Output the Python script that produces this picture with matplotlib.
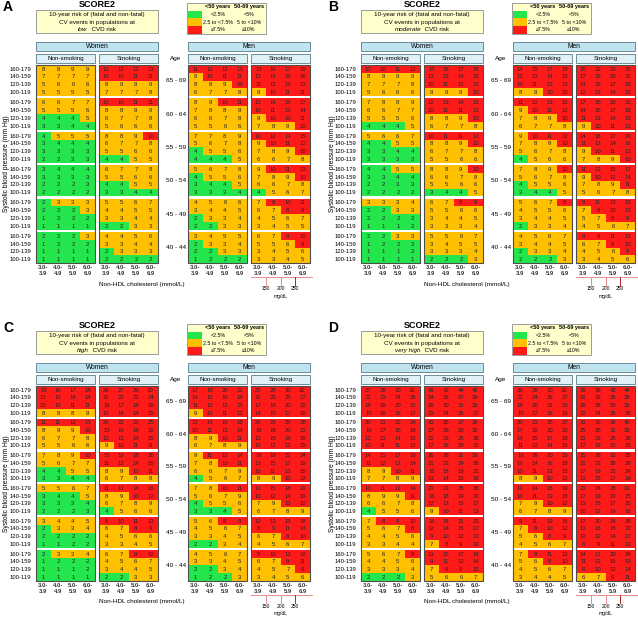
import matplotlib
matplotlib.use("Agg")
import matplotlib.pyplot as plt
from matplotlib.patches import Rectangle

plt.rcParams["font.family"] = ["Liberation Sans", "DejaVu Sans"]

# ---- labels ----
ages = ["65 - 69", "60 - 64", "55 - 59", "50 - 54", "45 - 49", "40 - 44"]
sbp = ["160-179", "140-159", "120-139", "100-119"]
chol_top = ["3.0-", "4.0-", "5.0-", "6.0-"]
chol_bot = ["3.9", "4.9", "5.9", "6.9"]
mgdl = [150, 200, 250]
letters = ["A", "B", "C", "D"]
levels = ["low", "moderate", "high", "very high"]

# ---- risk values (%), rows: age groups top->bottom, SBP 160-179 -> 100-119 ----
low_women_ns = [[8, 8, 9, 9], [7, 7, 7, 7], [5, 6, 6, 6], [5, 5, 5, 5],
                [6, 6, 7, 7], [5, 5, 5, 6], [4, 4, 4, 5], [3, 3, 4, 4],
                [4, 5, 5, 5], [3, 4, 4, 4], [3, 3, 3, 3], [2, 2, 3, 3],
                [3, 4, 4, 4], [3, 3, 3, 3], [2, 2, 2, 3], [2, 2, 2, 2],
                [2, 3, 3, 3], [2, 2, 2, 3], [1, 2, 2, 2], [1, 1, 1, 1],
                [2, 2, 2, 3], [1, 2, 2, 2], [1, 1, 1, 1], [1, 1, 1, 1]]
low_women_s = [[12, 12, 13, 13], [10, 10, 11, 11], [8, 9, 9, 9], [7, 7, 7, 8],
               [10, 10, 11, 11], [8, 8, 9, 9], [6, 7, 7, 8], [5, 6, 6, 6],
               [8, 8, 9, 10], [6, 7, 7, 8], [5, 5, 6, 6], [4, 4, 5, 5],
               [6, 7, 7, 8], [5, 5, 6, 6], [4, 4, 5, 5], [3, 3, 4, 4],
               [5, 5, 6, 7], [4, 4, 5, 5], [3, 3, 4, 4], [2, 2, 3, 3],
               [4, 4, 5, 6], [3, 3, 4, 4], [2, 3, 3, 3], [2, 2, 2, 2]]
low_men_ns = [[11, 12, 12, 13], [9, 10, 11, 11], [8, 8, 9, 10], [6, 7, 7, 8],
              [8, 9, 10, 11], [7, 8, 8, 9], [6, 6, 7, 8], [5, 5, 6, 6],
              [7, 7, 8, 9], [5, 6, 7, 8], [4, 5, 5, 6], [4, 4, 4, 5],
              [5, 6, 7, 8], [4, 5, 5, 6], [3, 4, 4, 5], [3, 3, 3, 4],
              [4, 5, 6, 6], [3, 4, 4, 5], [2, 3, 3, 4], [2, 2, 3, 3],
              [3, 4, 5, 5], [2, 3, 3, 4], [2, 2, 3, 3], [1, 2, 2, 2]]
low_men_s = [[15, 16, 17, 19], [13, 14, 15, 16], [11, 12, 13, 13], [9, 10, 11, 11],
             [13, 14, 15, 17], [10, 11, 13, 14], [9, 10, 10, 11], [7, 8, 9, 10],
             [10, 12, 13, 15], [9, 10, 11, 12], [7, 8, 9, 10], [6, 6, 7, 8],
             [9, 10, 11, 13], [7, 8, 9, 10], [6, 6, 7, 8], [4, 5, 6, 7],
             [7, 8, 10, 11], [6, 7, 8, 9], [4, 5, 6, 7], [3, 4, 5, 5],
             [6, 7, 8, 10], [5, 5, 6, 8], [3, 4, 5, 6], [3, 3, 4, 5]]

mod_women_ns = [[10, 10, 11, 12], [8, 9, 9, 9], [7, 7, 7, 8], [5, 6, 6, 6],
                [7, 8, 8, 9], [6, 6, 7, 7], [5, 5, 5, 6], [4, 4, 4, 5],
                [5, 6, 6, 7], [4, 4, 5, 5], [3, 3, 4, 4], [3, 3, 3, 3],
                [4, 4, 5, 5], [3, 3, 4, 4], [2, 2, 3, 3], [2, 2, 2, 2],
                [3, 3, 3, 4], [2, 2, 3, 3], [2, 2, 2, 2], [1, 1, 1, 2],
                [2, 2, 3, 3], [1, 2, 2, 2], [1, 1, 1, 2], [1, 1, 1, 1]]
mod_women_s = [[15, 16, 17, 18], [13, 13, 14, 15], [10, 11, 12, 12], [9, 9, 9, 10],
               [12, 13, 14, 15], [10, 11, 11, 12], [8, 8, 9, 10], [6, 7, 7, 8],
               [10, 11, 11, 12], [8, 8, 9, 10], [6, 7, 7, 8], [5, 5, 6, 6],
               [8, 8, 9, 10], [6, 6, 7, 8], [5, 5, 6, 6], [3, 4, 4, 5],
               [6, 7, 8, 9], [5, 5, 6, 6], [3, 4, 4, 5], [3, 3, 3, 4],
               [5, 5, 6, 7], [3, 4, 5, 5], [3, 3, 3, 4], [2, 2, 2, 3]]
mod_men_ns = [[14, 15, 17, 18], [12, 13, 14, 15], [10, 11, 12, 13], [8, 9, 10, 10],
              [11, 12, 13, 15], [9, 10, 11, 12], [7, 8, 9, 10], [6, 7, 7, 8],
              [9, 10, 11, 12], [7, 8, 9, 10], [5, 6, 7, 8], [4, 5, 6, 6],
              [7, 8, 9, 10], [5, 6, 7, 8], [4, 5, 5, 6], [3, 4, 4, 5],
              [5, 6, 7, 8], [4, 5, 5, 6], [3, 4, 4, 5], [2, 3, 3, 4],
              [4, 5, 6, 7], [3, 4, 4, 5], [2, 3, 3, 4], [2, 2, 2, 3]]
mod_men_s = [[20, 22, 23, 25], [17, 18, 20, 21], [14, 15, 17, 18], [12, 13, 14, 15],
             [17, 18, 20, 22], [14, 15, 17, 18], [11, 13, 14, 15], [9, 10, 11, 12],
             [14, 16, 17, 20], [11, 13, 14, 16], [9, 10, 11, 13], [7, 8, 9, 10],
             [11, 13, 15, 17], [9, 10, 12, 14], [7, 8, 9, 11], [5, 6, 7, 8],
             [9, 11, 13, 15], [7, 8, 10, 12], [5, 7, 8, 9], [4, 5, 6, 7],
             [8, 9, 11, 13], [6, 7, 8, 10], [4, 5, 6, 8], [3, 4, 5, 6]]

high_women_ns = [[15, 16, 17, 18], [12, 13, 14, 14], [10, 10, 11, 11], [8, 8, 8, 9],
                 [11, 11, 12, 13], [8, 9, 9, 10], [6, 7, 7, 8], [5, 5, 6, 6],
                 [7, 8, 9, 10], [5, 6, 7, 7], [4, 4, 5, 5], [3, 3, 4, 4],
                 [5, 5, 6, 7], [3, 4, 4, 5], [3, 3, 3, 4], [2, 2, 2, 3],
                 [3, 4, 4, 5], [2, 3, 3, 4], [2, 2, 2, 2], [1, 1, 2, 2],
                 [2, 3, 3, 4], [1, 2, 2, 2], [1, 1, 1, 2], [1, 1, 1, 1]]
high_women_s = [[26, 27, 29, 30], [21, 22, 23, 24], [16, 17, 18, 19], [13, 14, 14, 15],
                [20, 21, 23, 25], [15, 16, 18, 19], [12, 13, 14, 15], [9, 10, 11, 11],
                [15, 16, 18, 20], [11, 12, 14, 15], [8, 9, 10, 11], [6, 7, 8, 8],
                [11, 13, 14, 16], [8, 9, 10, 12], [6, 7, 8, 9], [4, 5, 6, 6],
                [8, 10, 11, 13], [6, 7, 8, 9], [4, 5, 6, 6], [3, 3, 4, 5],
                [6, 7, 9, 10], [4, 5, 6, 7], [3, 4, 4, 5], [2, 2, 3, 3]]
high_men_ns = [[17, 18, 20, 22], [14, 15, 16, 18], [11, 12, 13, 15], [9, 10, 11, 12],
               [13, 14, 16, 18], [10, 11, 13, 14], [8, 9, 10, 11], [6, 7, 8, 9],
               [9, 11, 12, 14], [7, 8, 10, 11], [6, 6, 7, 9], [4, 5, 6, 7],
               [7, 8, 10, 11], [5, 6, 7, 9], [4, 5, 5, 6], [3, 3, 4, 5],
               [5, 6, 8, 9], [4, 5, 6, 7], [3, 3, 4, 5], [2, 2, 3, 4],
               [4, 5, 6, 7], [3, 3, 4, 5], [2, 2, 3, 4], [1, 2, 2, 3]]
high_men_s = [[25, 28, 30, 32], [21, 23, 25, 27], [17, 19, 20, 22], [14, 15, 17, 18],
              [20, 23, 25, 28], [16, 18, 20, 23], [13, 15, 16, 18], [10, 12, 13, 15],
              [16, 19, 21, 24], [13, 15, 17, 19], [10, 11, 13, 15], [8, 9, 10, 12],
              [13, 15, 18, 21], [10, 12, 14, 16], [7, 9, 10, 12], [6, 7, 8, 9],
              [10, 13, 15, 18], [8, 9, 11, 14], [6, 7, 8, 10], [4, 5, 6, 7],
              [8, 10, 13, 16], [6, 7, 9, 11], [4, 5, 7, 8], [3, 4, 5, 6]]

vhigh_women_ns = [[27, 28, 30, 31], [22, 23, 24, 26], [18, 19, 20, 21], [15, 16, 16, 17],
                  [20, 21, 22, 24], [16, 17, 18, 19], [12, 13, 14, 15], [10, 11, 11, 12],
                  [14, 15, 17, 18], [11, 12, 13, 14], [8, 9, 10, 11], [7, 7, 8, 9],
                  [10, 11, 12, 14], [8, 9, 9, 11], [6, 6, 7, 8], [4, 5, 5, 6],
                  [7, 8, 9, 10], [5, 6, 7, 8], [4, 4, 5, 6], [3, 3, 4, 4],
                  [5, 6, 7, 8], [4, 4, 5, 6], [3, 3, 3, 4], [2, 2, 2, 3]]
vhigh_women_s = [[41, 42, 44, 46], [34, 36, 37, 39], [28, 30, 31, 33], [23, 24, 26, 27],
                 [33, 35, 37, 39], [27, 29, 30, 32], [22, 23, 25, 26], [17, 18, 20, 21],
                 [26, 28, 31, 33], [21, 23, 24, 26], [16, 18, 19, 21], [13, 14, 15, 16],
                 [21, 23, 25, 28], [16, 18, 19, 22], [12, 13, 15, 17], [9, 10, 11, 13],
                 [16, 18, 21, 23], [12, 14, 15, 17], [9, 10, 12, 13], [7, 8, 9, 10],
                 [13, 15, 17, 19], [9, 11, 12, 14], [7, 8, 9, 10], [5, 6, 6, 7]]
vhigh_men_ns = [[26, 28, 30, 32], [22, 24, 26, 27], [18, 20, 21, 23], [15, 17, 18, 19],
                [20, 23, 25, 27], [17, 19, 20, 22], [14, 15, 17, 18], [11, 12, 14, 15],
                [16, 18, 20, 23], [13, 14, 16, 18], [10, 11, 13, 15], [8, 9, 10, 12],
                [12, 14, 16, 19], [10, 11, 13, 15], [7, 9, 10, 12], [6, 7, 8, 9],
                [9, 11, 13, 16], [7, 8, 10, 12], [5, 6, 8, 9], [4, 5, 6, 7],
                [7, 9, 11, 13], [5, 6, 8, 10], [4, 5, 6, 7], [3, 4, 4, 5]]
vhigh_men_s = [[36, 39, 42, 44], [31, 33, 36, 38], [26, 28, 30, 33], [22, 24, 26, 28],
               [31, 33, 36, 40], [25, 28, 31, 33], [21, 23, 25, 28], [17, 19, 21, 23],
               [25, 28, 32, 35], [21, 23, 26, 29], [17, 19, 21, 24], [13, 15, 17, 19],
               [21, 24, 28, 31], [17, 19, 22, 25], [13, 15, 17, 20], [10, 12, 14, 16],
               [17, 20, 24, 28], [13, 16, 18, 22], [10, 12, 14, 17], [8, 9, 11, 13],
               [14, 17, 20, 24], [11, 13, 16, 19], [8, 10, 12, 14], [6, 7, 9, 11]]

charts = [
    (low_women_ns, low_women_s, low_men_ns, low_men_s),
    (mod_women_ns, mod_women_s, mod_men_ns, mod_men_s),
    (high_women_ns, high_women_s, high_men_ns, high_men_s),
    (vhigh_women_ns, vhigh_women_s, vhigh_men_ns, vhigh_men_s),
]
# chart origin, row height, age-group step (bottom charts are a little squeezed)
layouts = [((0, 0), 7.8, 33.4), ((325, 0), 7.8, 33.4),
           ((0, 321), 7.65, 32.8), ((325, 321), 7.65, 32.8)]

# ---- style ----
GREEN, ORANGE, RED = "#22e64b", "#ffc000", "#ff1a1a"
YELLOW_BG = "#ffffcc"
BAR_BG, SUB_BG, BAR_EDGE = "#bfe4f0", "#dff1f7", "#587d8c"
GRID_TOP = 65.0
COL_W = 14.75
PANEL_X = [36, 99, 188, 251]


def cell_color(value, age_idx):
    lo, hi = (5, 10) if age_idx < 4 else (2.5, 7.5)
    if value < lo:
        return GREEN
    if value < hi:
        return ORANGE
    return RED


fig = plt.figure(figsize=(6.38, 6.21), dpi=100)
ax = fig.add_axes([0, 0, 1, 1])
ax.set_xlim(0, 638)
ax.set_ylim(621, 0)
ax.axis("off")
renderer = fig.canvas.get_renderer()


def box(x, y, w, h, fc, ec, lw=0.6):
    ax.add_patch(Rectangle((x, y), w, h, facecolor=fc, edgecolor=ec, lw=lw))


def draw_chart(ox, oy, row_h, gstep, letter, level, panels):
    T = lambda x, y, s, **kw: ax.text(ox + x, oy + y, s, ha=kw.pop("ha", "center"),
                                      va=kw.pop("va", "center"), **kw)
    row_top = lambda r: GRID_TOP + (r // 4) * gstep + (r % 4) * row_h

    T(3, 7, letter, fontsize=10, fontweight="bold", ha="left")
    T(97, 4.5, "SCORE2", fontsize=6.5, fontweight="bold")

    # title box
    box(ox + 36, oy + 10, 122, 23, YELLOW_BG, "#8c8c8c")
    T(97, 14.8, "10-year risk of (fatal and non-fatal)", fontsize=4.5)
    T(97, 22.3, "CV events in populations at", fontsize=4.5)
    t1 = T(97, 29.8, level, fontsize=4.5, style="italic", ha="right")
    t2 = T(97, 29.8, "  CVD risk", fontsize=4.5, ha="left")
    w1 = t1.get_window_extent(renderer).width
    w2 = t2.get_window_extent(renderer).width
    xm = ox + 97 + (w1 - w2) / 2
    t1.set_x(xm)
    t2.set_x(xm)

    # legend box
    box(ox + 187, oy + 3, 79, 31, YELLOW_BG, "#8c8c8c")
    T(218, 6.8, "<50 years", fontsize=4, fontweight="bold")
    T(249, 6.8, "50-69 years", fontsize=4, fontweight="bold")
    leg = [(GREEN, "<2.5%", "<5%"), (ORANGE, "2.5 to <7.5%", "5 to <10%"),
           (RED, "\u22657.5%", "\u226510%")]
    for i, (c, a, b) in enumerate(leg):
        ax.add_patch(Rectangle((ox + 188, oy + 10.5 + i * 7.8), 14, 7.4,
                               facecolor=c, edgecolor="none"))
        T(218, 14.3 + i * 7.8, a, fontsize=3.8)
        T(249, 14.3 + i * 7.8, b, fontsize=3.8)

    # headers
    for x, name in [(36, "Women"), (188, "Men")]:
        box(ox + x, oy + 42, 122, 8.5, BAR_BG, BAR_EDGE)
        T(x + 61, 46.3, name, fontsize=4.8)
    for i, x in enumerate(PANEL_X):
        box(ox + x, oy + 54, 59, 8.5, SUB_BG, BAR_EDGE)
        T(x + 29.5, 58.3, "Non-smoking" if i % 2 == 0 else "Smoking", fontsize=4.5)
    T(176, 58.3, "Age", fontsize=4.6)

    # grid cells
    grid_h = 5 * gstep + 4 * row_h
    for px, vals in zip(PANEL_X, panels):
        for r, row in enumerate(vals):
            y = row_top(r)
            for c, v in enumerate(row):
                x = px + c * COL_W
                ax.add_patch(Rectangle((ox + x, oy + y), COL_W, row_h,
                                       facecolor=cell_color(v, r // 4),
                                       edgecolor="none"))
                T(x + COL_W / 2, y + row_h / 2 + 0.3, str(v), fontsize=4.3,
                  color="#262626")
        ax.add_patch(Rectangle((ox + px, oy + GRID_TOP), 4 * COL_W, grid_h,
                               fill=False, edgecolor="#4d4d4d", lw=0.8))

    # row / age labels
    for r in range(24):
        T(31, row_top(r) + row_h / 2 + 0.3, sbp[r % 4], fontsize=4.2, ha="right")
    for g, age in enumerate(ages):
        T(176, GRID_TOP + g * gstep + 2 * row_h, age, fontsize=4.6)
    T(7, GRID_TOP + grid_h / 2, "Systolic blood pressure (mm Hg)", fontsize=4.8,
      rotation=90)

    # cholesterol labels
    y_bot = GRID_TOP + grid_h
    for px in PANEL_X:
        for c in range(4):
            T(px + c * COL_W + COL_W / 2, y_bot + 4.5, chol_top[c], fontsize=4.2,
              fontweight="bold", color="#333333")
            T(px + c * COL_W + COL_W / 2, y_bot + 10.5, chol_bot[c], fontsize=4.2,
              fontweight="bold", color="#333333")
    T(142, y_bot + 21, "Non-HDL cholesterol (mmol/L)", fontsize=4.6)

    # mg/dL scale under men smoking panel
    sx = PANEL_X[3]
    yl = oy + y_bot + 14
    ax.plot([ox + sx, ox + sx + 4 * COL_W + 2], [yl, yl], color="#e58c8c", lw=0.7)
    for k, m in enumerate(mgdl):
        xk = ox + sx + (k + 1) * COL_W
        ax.plot([xk, xk], [yl, yl + 8.5],
                color="#b22222" if k == 2 else "#e58c8c", lw=0.7)
        T(sx + (k + 1) * COL_W, y_bot + 25.5, str(m), fontsize=3.6)
    T(sx + 2 * COL_W, y_bot + 33, "mg/dL", fontsize=3.6)


for (orig, row_h, gstep), letter, level, panels in zip(layouts, letters, levels, charts):
    draw_chart(orig[0], orig[1], row_h, gstep, letter, level, panels)

fig.savefig("out.png", dpi=100)
